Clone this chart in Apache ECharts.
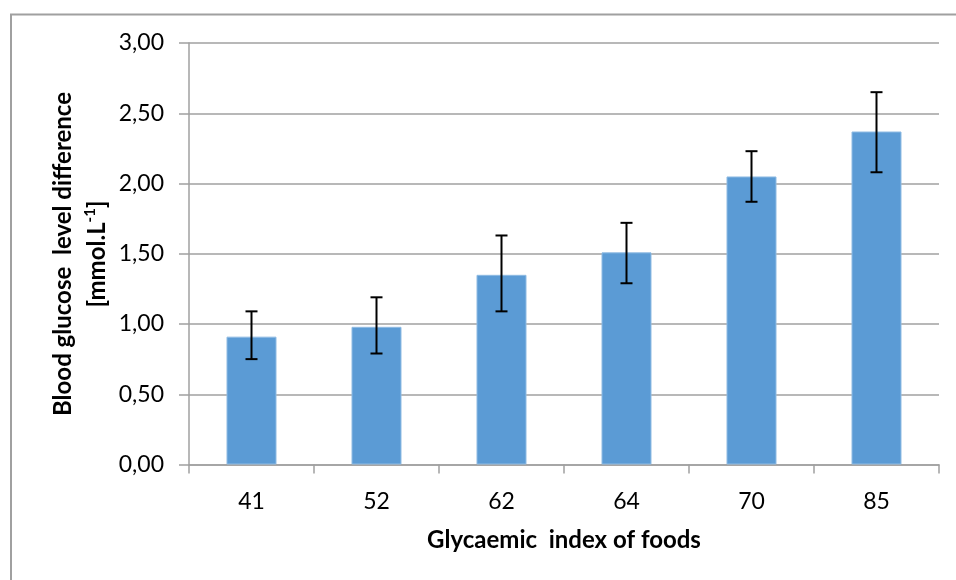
<!DOCTYPE html>
<html>
<head>
<meta charset="utf-8">
<script src="https://cdn.jsdelivr.net/npm/echarts@6/dist/echarts.min.js"></script>
<style>html,body{margin:0;padding:0;background:#fff}#c{width:956px;height:580px}</style>
</head>
<body>
<div id="c"></div>
<script>
var categories = ['41', '52', '62', '64', '70', '85'];
var means = [0.91, 0.98, 1.35, 1.51, 2.05, 2.37];
var errLow = [0.75, 0.79, 1.09, 1.29, 1.87, 2.08];
var errHigh = [1.09, 1.19, 1.63, 1.72, 2.23, 2.65];
var yTicks = [0, 0.5, 1, 1.5, 2, 2.5, 3];

var chart = echarts.init(document.getElementById('c'), null, {renderer: 'canvas'});
var F = 'Lato, "Open Sans", sans-serif';
var errData = categories.map(function (c, i) { return [i, errLow[i], errHigh[i]]; });

chart.setOption({
  animation: false,
  backgroundColor: '#fff',
  grid: {left: 189, right: 17, top: 43, bottom: 115.5, containLabel: false},
  xAxis: {
    type: 'category',
    data: categories,
    name: 'Glycaemic  index of foods',
    nameLocation: 'middle',
    nameGap: 64,
    nameTextStyle: {fontFamily: F, fontSize: 24, fontWeight: 'bold', color: '#000'},
    axisLine: {lineStyle: {color: '#a0a0a0', width: 1.5}},
    axisTick: {show: true, length: 9, lineStyle: {color: '#a0a0a0', width: 1.5}},
    axisLabel: {fontFamily: F, fontSize: 23, color: '#000', margin: 26}
  },
  yAxis: {
    type: 'value',
    min: 0, max: 3, interval: 0.5,
    axisLine: {show: true, lineStyle: {color: '#a0a0a0', width: 1.5}},
    axisTick: {show: true, inside: false, length: 10, lineStyle: {color: '#a0a0a0', width: 1.5}},
    splitLine: {show: true, lineStyle: {color: '#a0a0a0', width: 1.5}},
    axisLabel: {
      fontFamily: F, fontSize: 23, color: '#000', margin: 25,
      formatter: function (v) {
        return v.toFixed(2).replace('.', ',');
      }
    }
  },
  series: [
    {
      type: 'bar',
      data: means,
      barWidth: '40%',
      itemStyle: {color: '#5b9bd5', borderColor: '#8fbbe3', borderWidth: 1}
    },
    {
      type: 'custom',
      data: errData,
      z: 10,
      renderItem: function (params, api) {
        var x = api.value(0);
        var lo = api.coord([x, api.value(1)]);
        var hi = api.coord([x, api.value(2)]);
        var w = 6;
        var st = {stroke: '#000', lineWidth: 2};
        return {
          type: 'group',
          children: [
            {type: 'line', shape: {x1: lo[0], y1: lo[1], x2: hi[0], y2: hi[1]}, style: st},
            {type: 'line', shape: {x1: lo[0] - w, y1: lo[1], x2: lo[0] + w, y2: lo[1]}, style: st},
            {type: 'line', shape: {x1: hi[0] - w, y1: hi[1], x2: hi[0] + w, y2: hi[1]}, style: st}
          ]
        };
      }
    }
  ],
  graphic: [
    {
      type: 'rect',
      shape: {x: 11, y: 14.5, width: 980, height: 620},
      style: {fill: 'none', stroke: '#a0a0a0', lineWidth: 2},
      silent: true
    },
    {
      type: 'text',
      x: 80, y: 254,
      rotation: Math.PI / 2,
      style: {
        text: '{b|Blood glucose  level difference}\n{b|[mmol.L}{s|-1}{b|]}',
        align: 'center',
        verticalAlign: 'middle',
        fontFamily: F,
        lineHeight: 34,
        rich: {
          b: {fontFamily: F, fontSize: 24, fontWeight: 'bold', color: '#000', lineHeight: 34},
          s: {fontFamily: F, fontSize: 15, fontWeight: 'bold', color: '#000', lineHeight: 34, padding: [0, 0, 14, 0]}
        }
      }
    }
  ]
});
</script>
</body>
</html>
